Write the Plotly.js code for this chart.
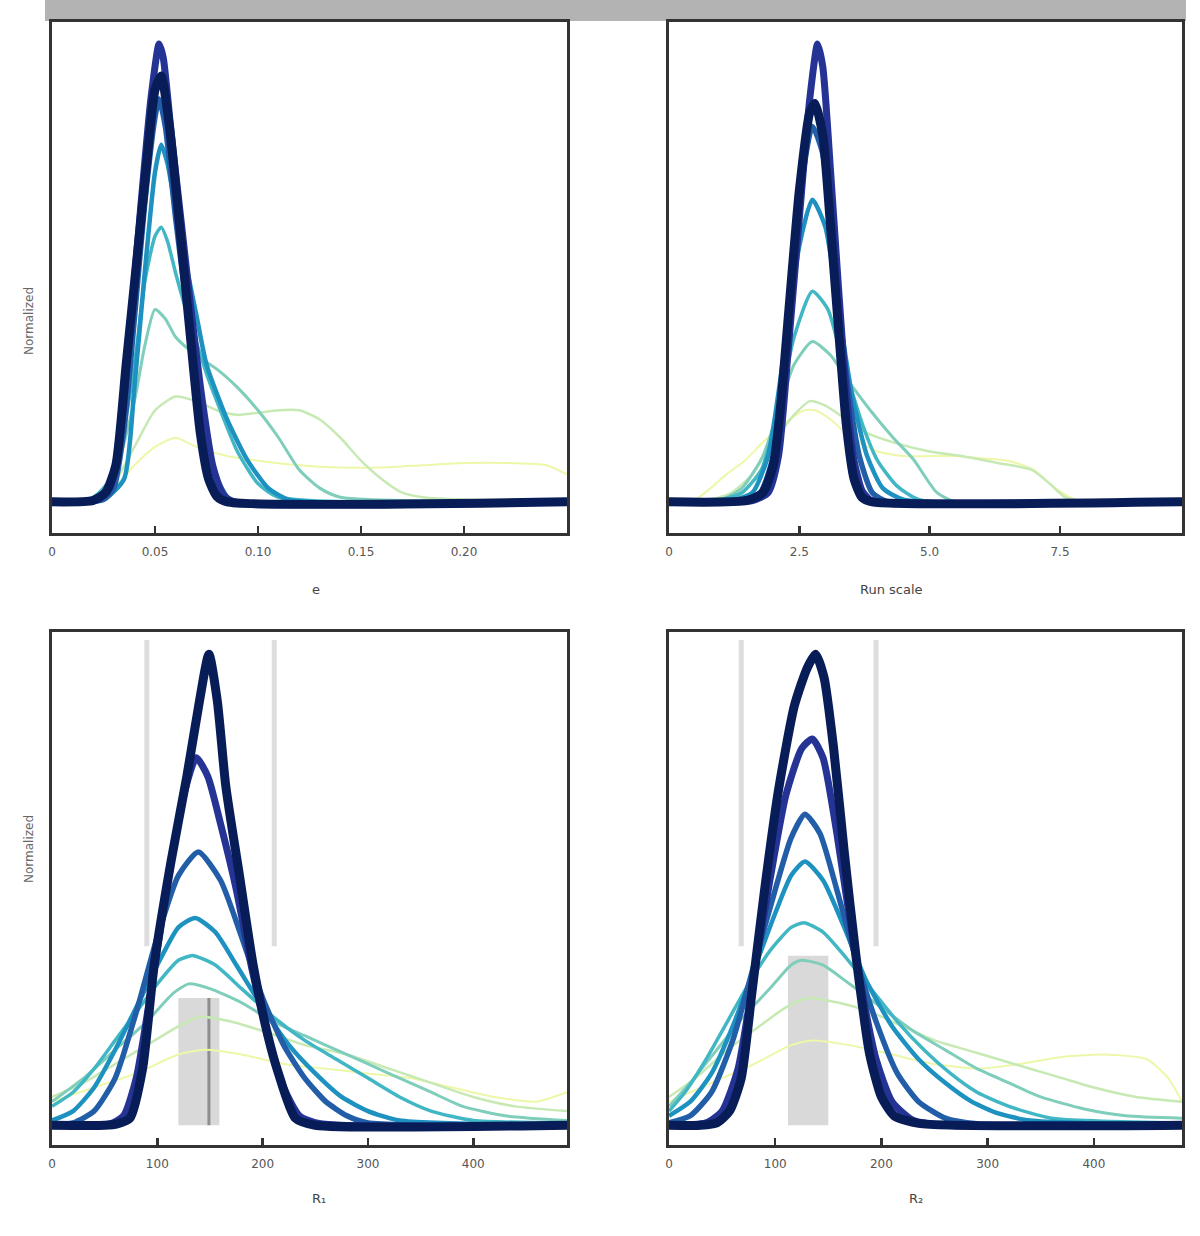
<!DOCTYPE html>
<html>
<head>
<meta charset="utf-8">
<script src="https://cdn.plot.ly/plotly-3.0.1.min.js"></script>
<style>html,body{margin:0;padding:0;background:#fff;}#chart{width:1200px;height:1236px;}</style>
</head>
<body>
<div id="chart"></div>
<script>
// ---------- tick labels ----------
const tlTickVals = [0, 0.05, 0.10, 0.15, 0.20];
const tlTickText = ["0", "0.05", "0.10", "0.15", "0.20"];
const trTickVals = [0, 2.5, 5.0, 7.5];
const trTickText = ["0", "2.5", "5.0", "7.5"];
const blTickVals = [0, 100, 200, 300, 400];
const blTickText = ["0", "100", "200", "300", "400"];
const brTickVals = [0, 100, 200, 300, 400];
const brTickText = ["0", "100", "200", "300", "400"];

const xLabels = ["e", "Run scale", "R₁", "R₂"];
const yLabel = "Normalized";

// ---------- top-left panel (e) ----------
const tl1x = [0, 0.02, 0.03, 0.04, 0.05, 0.06, 0.07, 0.085, 0.10, 0.12, 0.14, 0.16, 0.18, 0.20, 0.22, 0.24, 0.25];
const tl1y = [0, 0.005, 0.03, 0.08, 0.12, 0.14, 0.12, 0.10, 0.09, 0.08, 0.075, 0.075, 0.08, 0.085, 0.085, 0.08, 0.06];
const tl2x = [0, 0.02, 0.03, 0.04, 0.05, 0.06, 0.07, 0.08, 0.09, 0.11, 0.12, 0.13, 0.14, 0.15, 0.16, 0.17, 0.18, 0.20, 0.25];
const tl2y = [0, 0.005, 0.04, 0.12, 0.20, 0.23, 0.22, 0.20, 0.19, 0.20, 0.20, 0.18, 0.14, 0.09, 0.05, 0.02, 0.01, 0.005, 0.005];
const tl3x = [0, 0.02, 0.03, 0.04, 0.045, 0.05, 0.055, 0.06, 0.07, 0.08, 0.09, 0.10, 0.11, 0.12, 0.13, 0.14, 0.25];
const tl3y = [0, 0.01, 0.06, 0.22, 0.34, 0.42, 0.40, 0.36, 0.32, 0.29, 0.25, 0.20, 0.14, 0.07, 0.03, 0.01, 0];
const tl4x = [0, 0.02, 0.03, 0.04, 0.045, 0.05, 0.053, 0.056, 0.06, 0.065, 0.07, 0.075, 0.08, 0.09, 0.10, 0.11, 0.25];
const tl4y = [0, 0.01, 0.06, 0.30, 0.48, 0.58, 0.60, 0.57, 0.50, 0.42, 0.35, 0.28, 0.22, 0.11, 0.04, 0.01, 0];
const tl5x = [0, 0.025, 0.035, 0.04, 0.045, 0.05, 0.053, 0.056, 0.06, 0.065, 0.07, 0.075, 0.085, 0.095, 0.105, 0.115, 0.25];
const tl5y = [0, 0.005, 0.05, 0.25, 0.50, 0.72, 0.78, 0.74, 0.64, 0.52, 0.41, 0.30, 0.18, 0.09, 0.03, 0.005, 0];
const tl6x = [0, 0.025, 0.03, 0.035, 0.04, 0.045, 0.05, 0.052, 0.055, 0.06, 0.065, 0.07, 0.075, 0.08, 0.085, 0.09, 0.25];
const tl6y = [0, 0.005, 0.03, 0.16, 0.40, 0.65, 0.84, 0.88, 0.82, 0.62, 0.44, 0.28, 0.14, 0.05, 0.01, 0, 0];
const tl7x = [0, 0.022, 0.028, 0.033, 0.038, 0.043, 0.048, 0.052, 0.054, 0.058, 0.063, 0.068, 0.073, 0.078, 0.083, 0.088, 0.25];
const tl7y = [0, 0.005, 0.03, 0.14, 0.38, 0.64, 0.88, 1.00, 0.97, 0.80, 0.60, 0.40, 0.22, 0.08, 0.015, 0, 0];
const tl8x = [0, 0.02, 0.026, 0.031, 0.036, 0.041, 0.046, 0.05, 0.053, 0.057, 0.062, 0.067, 0.072, 0.076, 0.08, 0.085, 0.25];
const tl8y = [0, 0.003, 0.02, 0.08, 0.30, 0.52, 0.74, 0.90, 0.93, 0.82, 0.60, 0.37, 0.15, 0.05, 0.012, 0, 0];

// ---------- top-right panel (Run scale) ----------
const tr1x = [0, 0.5, 0.8, 1.1, 1.45, 1.8, 2.2, 2.6, 2.8, 3.1, 3.5, 4.0, 4.5, 5.0, 5.5, 6.0, 6.5, 7.0, 7.4, 7.8, 8.5, 9.84];
const tr1y = [0, 0.005, 0.03, 0.06, 0.09, 0.13, 0.17, 0.20, 0.20, 0.18, 0.14, 0.11, 0.10, 0.10, 0.10, 0.095, 0.09, 0.07, 0.03, 0.005, 0, 0];
const tr2x = [0, 0.8, 1.2, 1.6, 2.0, 2.4, 2.7, 3.0, 3.4, 3.8, 4.3, 5.0, 5.6, 6.3, 6.96, 7.3, 7.6, 8.0, 9.84];
const tr2y = [0, 0.005, 0.02, 0.06, 0.13, 0.19, 0.22, 0.21, 0.18, 0.15, 0.13, 0.11, 0.10, 0.085, 0.07, 0.04, 0.01, 0, 0];
const tr3x = [0, 1.0, 1.4, 1.8, 2.1, 2.4, 2.75, 3.1, 3.4, 3.86, 4.3, 4.68, 5.14, 5.5, 9.84];
const tr3y = [0, 0.005, 0.03, 0.10, 0.20, 0.30, 0.35, 0.32, 0.27, 0.20, 0.14, 0.094, 0.02, 0, 0];
const tr4x = [0, 1.0, 1.4, 1.77, 2.1, 2.4, 2.75, 3.05, 3.3, 3.72, 4.0, 4.37, 4.8, 9.84];
const tr4y = [0, 0.005, 0.02, 0.07, 0.20, 0.36, 0.46, 0.42, 0.32, 0.166, 0.09, 0.035, 0.005, 0];
const tr5x = [0, 1.2, 1.6, 1.9, 2.2, 2.5, 2.75, 3.0, 3.25, 3.5, 3.8, 4.1, 4.5, 9.84];
const tr5y = [0, 0.003, 0.02, 0.10, 0.32, 0.56, 0.66, 0.60, 0.42, 0.24, 0.10, 0.03, 0.005, 0];
const tr6x = [0, 1.4, 1.75, 2.0, 2.25, 2.5, 2.75, 2.95, 3.15, 3.4, 3.65, 3.9, 4.2, 9.84];
const tr6y = [0, 0.003, 0.02, 0.10, 0.36, 0.66, 0.82, 0.76, 0.55, 0.28, 0.10, 0.02, 0, 0];
const tr7x = [0, 1.6, 1.9, 2.1, 2.3, 2.5, 2.7, 2.85, 2.95, 3.1, 3.25, 3.4, 3.55, 3.7, 3.85, 4.0, 9.84];
const tr7y = [0, 0.003, 0.02, 0.10, 0.35, 0.62, 0.88, 1.00, 0.95, 0.72, 0.47, 0.24, 0.09, 0.025, 0.005, 0, 0];
const tr8x = [0, 1.5, 1.8, 2.0, 2.15, 2.3, 2.5, 2.7, 2.8, 2.95, 3.1, 3.25, 3.4, 3.55, 3.7, 3.9, 9.84];
const tr8y = [0, 0.003, 0.02, 0.08, 0.22, 0.42, 0.68, 0.85, 0.87, 0.80, 0.60, 0.38, 0.17, 0.05, 0.01, 0, 0];

// ---------- bottom-left panel (R1) ----------
const bl1x = [0, 40, 80, 120, 145, 180, 220, 260, 300, 340, 380, 420, 460, 489];
const bl1y = [0.05, 0.08, 0.11, 0.15, 0.16, 0.15, 0.13, 0.12, 0.11, 0.10, 0.08, 0.06, 0.05, 0.07];
const bl2x = [0, 30, 60, 90, 120, 140, 170, 200, 240, 280, 320, 360, 400, 440, 489];
const bl2y = [0.06, 0.09, 0.13, 0.17, 0.21, 0.23, 0.22, 0.20, 0.17, 0.15, 0.12, 0.09, 0.06, 0.04, 0.03];
const bl3x = [0, 30, 60, 90, 115, 130, 150, 180, 210, 240, 270, 300, 330, 360, 390, 430, 489];
const bl3y = [0.05, 0.10, 0.16, 0.22, 0.28, 0.30, 0.29, 0.26, 0.22, 0.19, 0.16, 0.13, 0.10, 0.07, 0.04, 0.02, 0.01];
const bl4x = [0, 20, 40, 60, 80, 100, 120, 134, 155, 180, 210, 240, 270, 300, 330, 360, 400, 489];
const bl4y = [0.04, 0.07, 0.12, 0.18, 0.24, 0.30, 0.35, 0.36, 0.34, 0.29, 0.23, 0.18, 0.14, 0.10, 0.06, 0.03, 0.01, 0.005];
const bl5x = [0, 20, 40, 60, 80, 100, 120, 136, 155, 175, 200, 225, 250, 275, 300, 330, 489];
const bl5y = [0.01, 0.03, 0.08, 0.16, 0.25, 0.34, 0.42, 0.44, 0.41, 0.34, 0.25, 0.17, 0.11, 0.06, 0.03, 0.01, 0];
const bl6x = [0, 20, 40, 60, 80, 100, 120, 139, 160, 180, 200, 220, 240, 260, 280, 300, 489];
const bl6y = [0, 0.005, 0.03, 0.10, 0.24, 0.40, 0.53, 0.58, 0.52, 0.40, 0.27, 0.17, 0.10, 0.05, 0.02, 0.005, 0];
const bl7x = [0, 55, 68, 80, 95, 110, 125, 137, 148, 160, 175, 190, 205, 220, 235, 255, 489];
const bl7y = [0, 0.003, 0.02, 0.10, 0.30, 0.52, 0.70, 0.78, 0.74, 0.64, 0.50, 0.33, 0.19, 0.08, 0.02, 0.003, 0];
const bl8x = [0, 50, 62, 74, 86, 97, 113, 128, 140, 149, 157, 165, 178, 191, 205, 215, 231, 250, 489];
const bl8y = [0, 0, 0.003, 0.015, 0.12, 0.34, 0.56, 0.74, 0.90, 1.00, 0.90, 0.72, 0.53, 0.34, 0.19, 0.11, 0.015, 0, 0];

// ---------- bottom-right panel (R2) ----------
const br1x = [0, 40, 80, 115, 135, 170, 210, 250, 290, 330, 370, 410, 450, 470, 483];
const br1y = [0.05, 0.09, 0.13, 0.17, 0.18, 0.17, 0.15, 0.13, 0.12, 0.13, 0.145, 0.15, 0.14, 0.10, 0.05];
const br2x = [0, 25, 55, 85, 110, 130, 160, 190, 220, 250, 280, 310, 340, 370, 400, 440, 483];
const br2y = [0.06, 0.10, 0.16, 0.21, 0.25, 0.27, 0.26, 0.24, 0.21, 0.18, 0.16, 0.14, 0.12, 0.10, 0.08, 0.06, 0.05];
const br3x = [0, 20, 45, 70, 95, 115, 125, 145, 170, 200, 230, 260, 290, 320, 350, 390, 430, 483];
const br3y = [0.04, 0.09, 0.16, 0.23, 0.29, 0.34, 0.35, 0.34, 0.30, 0.25, 0.20, 0.16, 0.12, 0.09, 0.06, 0.035, 0.02, 0.015];
const br4x = [0, 15, 35, 55, 75, 95, 115, 127, 145, 165, 190, 215, 240, 265, 290, 320, 360, 483];
const br4y = [0.03, 0.07, 0.14, 0.22, 0.30, 0.37, 0.42, 0.43, 0.41, 0.36, 0.29, 0.22, 0.16, 0.11, 0.07, 0.04, 0.015, 0.005];
const br5x = [0, 20, 40, 60, 80, 100, 115, 128, 145, 165, 185, 210, 235, 260, 285, 310, 340, 483];
const br5y = [0.02, 0.05, 0.11, 0.21, 0.33, 0.45, 0.53, 0.56, 0.52, 0.42, 0.31, 0.21, 0.14, 0.09, 0.05, 0.025, 0.01, 0];
const br6x = [0, 20, 40, 60, 80, 100, 115, 128, 142, 158, 175, 195, 215, 235, 260, 290, 483];
const br6y = [0.005, 0.02, 0.07, 0.18, 0.34, 0.50, 0.61, 0.66, 0.62, 0.50, 0.36, 0.22, 0.11, 0.05, 0.015, 0.003, 0];
const br7x = [0, 35, 50, 65, 80, 95, 110, 125, 135, 145, 158, 170, 182, 195, 210, 230, 260, 483];
const br7y = [0, 0.005, 0.03, 0.12, 0.32, 0.52, 0.70, 0.80, 0.82, 0.78, 0.62, 0.44, 0.28, 0.14, 0.05, 0.01, 0, 0];
const br8x = [0, 30, 45, 57, 68, 78, 90, 103, 118, 130, 138, 146, 155, 165, 176, 189, 200, 212, 235, 483];
const br8y = [0, 0, 0.005, 0.03, 0.10, 0.28, 0.50, 0.71, 0.89, 0.97, 1.00, 0.95, 0.80, 0.58, 0.36, 0.15, 0.06, 0.02, 0.004, 0];

// ---------- grey reference marks (bottom panels) ----------
const blRefLines = [90, 211];
const brRefLines = [68, 195];
const blBand = [120, 159];
const brBand = [112, 150];
const blBandTop = 0.27;
const brBandTop = 0.36;
const blCentre = 149;
const refLineRange = [0.38, 1.03];

// ---------- styles ----------
const lineColors = ["#eef7a8", "#c7e9b4", "#7fcdbb", "#41b6c4", "#1d91c0", "#225ea8", "#253494", "#081d58"];
const lineWidths = [2, 2.5, 3, 3.5, 4.5, 5.5, 7, 9];

const panels = [
  {xa: "x",  ya: "y",  xs: [tl1x, tl2x, tl3x, tl4x, tl5x, tl6x, tl7x, tl8x], ys: [tl1y, tl2y, tl3y, tl4y, tl5y, tl6y, tl7y, tl8y]},
  {xa: "x2", ya: "y2", xs: [tr1x, tr2x, tr3x, tr4x, tr5x, tr6x, tr7x, tr8x], ys: [tr1y, tr2y, tr3y, tr4y, tr5y, tr6y, tr7y, tr8y]},
  {xa: "x3", ya: "y3", xs: [bl1x, bl2x, bl3x, bl4x, bl5x, bl6x, bl7x, bl8x], ys: [bl1y, bl2y, bl3y, bl4y, bl5y, bl6y, bl7y, bl8y],
   lines: blRefLines, band: blBand, bandTop: blBandTop, centre: blCentre},
  {xa: "x4", ya: "y4", xs: [br1x, br2x, br3x, br4x, br5x, br6x, br7x, br8x], ys: [br1y, br2y, br3y, br4y, br5y, br6y, br7y, br8y],
   lines: brRefLines, band: brBand, bandTop: brBandTop}
];

const traces = [];
panels.forEach(p => {
  if (p.lines) {
    p.lines.forEach(v => traces.push({
      type: "scatter", mode: "lines", xaxis: p.xa, yaxis: p.ya,
      x: [v, v], y: refLineRange, line: {color: "rgba(170,170,170,0.4)", width: 5},
      hoverinfo: "skip"
    }));
    traces.push({
      type: "scatter", mode: "lines", xaxis: p.xa, yaxis: p.ya,
      x: [p.band[0], p.band[1], p.band[1], p.band[0], p.band[0]],
      y: [0, 0, p.bandTop, p.bandTop, 0],
      fill: "toself", fillcolor: "rgba(165,165,165,0.42)", line: {width: 0}, hoverinfo: "skip"
    });
    if (p.centre !== undefined) {
      traces.push({
        type: "scatter", mode: "lines", xaxis: p.xa, yaxis: p.ya,
        x: [p.centre, p.centre], y: [0, p.bandTop],
        line: {color: "rgba(110,110,110,0.7)", width: 3}, hoverinfo: "skip"
      });
    }
  }
  p.xs.forEach((xs, i) => traces.push({
    type: "scatter", mode: "lines", xaxis: p.xa, yaxis: p.ya,
    x: xs, y: p.ys[i],
    line: {color: lineColors[i], width: lineWidths[i], shape: "spline", smoothing: 0.6}
  }));
});

const W = 1200, H = 1236;
const colX = [[52 / W, 567 / W], [669 / W, 1182 / W]];
const rowY = [[1 - 533 / H, 1 - 22 / H], [1 - 1145 / H, 1 - 632 / H]];

function xax(dom, anchor, range, vals, text) {
  return {
    domain: dom, anchor: anchor, range: range,
    tickmode: "array", tickvals: vals, ticktext: text,
    ticks: "inside", ticklen: 7, tickwidth: 2.5, tickcolor: "#333",
    showline: true, mirror: true, linecolor: "#333", linewidth: 3,
    showgrid: false, zeroline: false,
    tickfont: {family: "DejaVu Sans", size: 12, color: "#555"},
    ticklabelstandoff: 6
  };
}
function yax(dom, anchor, range) {
  return {
    domain: dom, anchor: anchor, range: range,
    showticklabels: false, ticks: "",
    showline: true, mirror: true, linecolor: "#333", linewidth: 3,
    showgrid: false, zeroline: false
  };
}

const topRange = [-0.068, 1.048];
const botRange = [-0.042, 1.047];

const labelFont = {family: "DejaVu Sans", size: 13, color: "#444"};
const yFont = {family: "DejaVu Sans", size: 12, color: "#666"};
const layout = {
  width: W, height: H,
  margin: {l: 0, r: 0, t: 0, b: 0},
  paper_bgcolor: "#ffffff", plot_bgcolor: "#ffffff",
  showlegend: false,
  xaxis:  xax(colX[0], "y",  [0, 0.25], tlTickVals, tlTickText),
  yaxis:  yax(rowY[0], "x",  topRange),
  xaxis2: xax(colX[1], "y2", [0, 9.84], trTickVals, trTickText),
  yaxis2: yax(rowY[0], "x2", topRange),
  xaxis3: xax(colX[0], "y3", [0, 489], blTickVals, blTickText),
  yaxis3: yax(rowY[1], "x3", botRange),
  xaxis4: xax(colX[1], "y4", [0, 483], brTickVals, brTickText),
  yaxis4: yax(rowY[1], "x4", botRange),
  shapes: [
    {type: "rect", xref: "paper", yref: "paper", x0: 45 / W, x1: 1186 / W, y0: 1 - 21 / H, y1: 1,
     fillcolor: "#b3b3b3", line: {width: 0}, layer: "below"}
  ],
  annotations: [
    {text: xLabels[0], xref: "paper", yref: "paper", x: 310 / W, y: 1 - 590 / H, showarrow: false, font: labelFont},
    {text: xLabels[1], xref: "paper", yref: "paper", x: 925 / W, y: 1 - 590 / H, showarrow: false, font: labelFont},
    {text: xLabels[2], xref: "paper", yref: "paper", x: 310 / W, y: 1 - 1208 / H, showarrow: false, font: labelFont},
    {text: xLabels[3], xref: "paper", yref: "paper", x: 925 / W, y: 1 - 1208 / H, showarrow: false, font: labelFont},
    {text: yLabel, xref: "paper", yref: "paper", x: 20 / W, y: 1 - 285 / H, showarrow: false, textangle: -90, font: yFont},
    {text: yLabel, xref: "paper", yref: "paper", x: 20 / W, y: 1 - 885 / H, showarrow: false, textangle: -90, font: yFont}
  ]
};

Plotly.newPlot("chart", traces, layout, {staticPlot: true, displayModeBar: false});
</script>
</body>
</html>
